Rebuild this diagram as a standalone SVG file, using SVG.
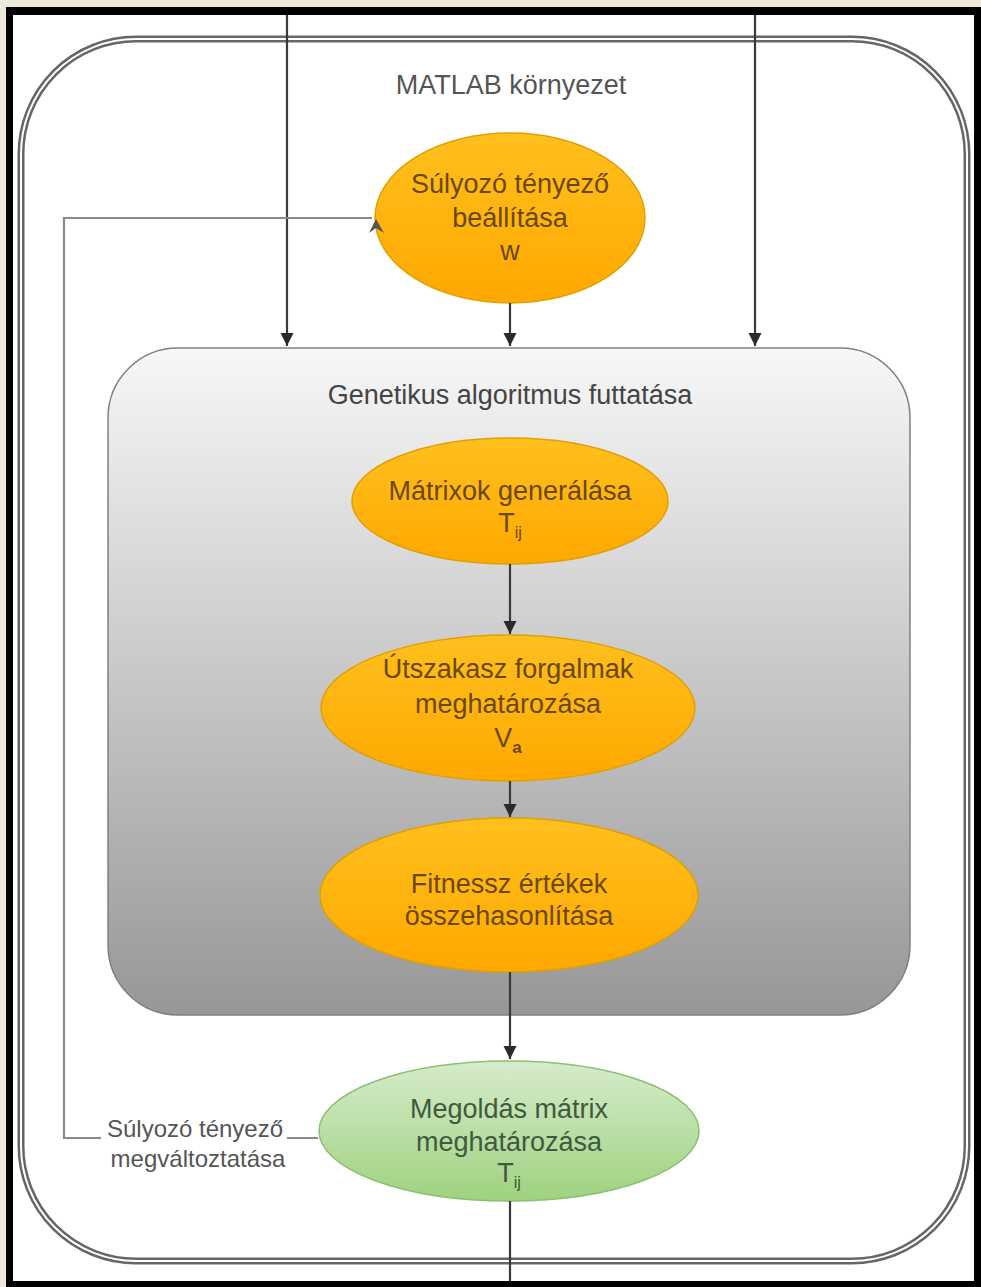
<svg xmlns="http://www.w3.org/2000/svg" width="981" height="1287" viewBox="0 0 981 1287">
<style>
.t{font-family:"Liberation Sans",Arial,sans-serif;text-anchor:middle}
.ot{font-size:27px;fill:#6b4800}
.gt{font-size:27px;fill:#3f5a3f}
.lbl{font-size:27px;fill:#555}
.conn{stroke:#3a3a3a;stroke-width:2.2;fill:none}
.fb{stroke:#8a8a8a;stroke-width:2.2;fill:none}
.orange{fill:url(#og);stroke:#e0a000;stroke-width:1.5}
</style>
<defs>
<linearGradient id="og" x1="0" y1="0" x2="0" y2="1">
<stop offset="0" stop-color="#ffc01e"/>
<stop offset="1" stop-color="#ffa800"/>
</linearGradient>
<linearGradient id="gg" x1="0" y1="0" x2="0" y2="1">
<stop offset="0" stop-color="#d6ebcc"/>
<stop offset="1" stop-color="#9fd27f"/>
</linearGradient>
<linearGradient id="bg" x1="0" y1="0" x2="0" y2="1">
<stop offset="0" stop-color="#f7f7f7"/>
<stop offset="1" stop-color="#979797"/>
</linearGradient>
<marker id="ah" viewBox="0 0 10 10" refX="10" refY="5" markerWidth="6" markerHeight="6" orient="auto" markerUnits="strokeWidth">
<path d="M0,0 L10,5 L0,10 z" fill="#2a2a2a"/>
</marker>
</defs>
<rect x="0" y="0" width="981" height="1287" fill="#eeeadb"/>
<rect x="6" y="7" width="975" height="1280" fill="#000"/>
<rect x="13" y="15" width="961" height="1266" fill="#fff"/>

<g id="matlab">
<rect x="21" y="39" width="946" height="1222" rx="115" ry="115" fill="none" stroke="#666" stroke-width="7"/>
<rect x="21" y="39" width="946" height="1222" rx="115" ry="115" fill="none" stroke="#fff" stroke-width="2"/>
<text class="t lbl" x="511" y="94">MATLAB környezet</text>
</g>

<g id="ga">
<rect x="108" y="348" width="802" height="667" rx="70" ry="70" fill="url(#bg)" stroke="#808080" stroke-width="1.5"/>
<text class="t" x="510" y="404" style="font-size:27px;fill:#444">Genetikus algoritmus futtatása</text>
</g>

<g id="n-w">
<ellipse class="orange" cx="510" cy="218" rx="135" ry="85"/>
<text class="t ot" x="510" y="193">Súlyozó tényező</text>
<text class="t ot" x="510" y="227">beállítása</text>
<text class="t ot" x="510" y="260">w</text>
</g>

<g id="n-matrix">
<ellipse class="orange" cx="510" cy="501" rx="158" ry="63"/>
<text class="t ot" x="510" y="500">Mátrixok generálása</text>
<text class="t ot" x="510" y="532">T<tspan dy="6" style="font-size:16px">ij</tspan></text>
</g>

<g id="n-flow">
<ellipse class="orange" cx="508" cy="708" rx="187" ry="73"/>
<text class="t ot" x="508" y="678">Útszakasz forgalmak</text>
<text class="t ot" x="508" y="713">meghatározása</text>
<text class="t ot" x="508" y="747">V<tspan dy="6" style="font-size:17px;font-weight:bold">a</tspan></text>
</g>

<g id="n-fitness">
<ellipse class="orange" cx="509" cy="895" rx="189" ry="77"/>
<text class="t ot" x="509" y="893">Fitnessz értékek</text>
<text class="t ot" x="509" y="925">összehasonlítása</text>
</g>

<g id="n-solution">
<ellipse cx="509" cy="1131" rx="190" ry="70" fill="url(#gg)" stroke="#8cbf70" stroke-width="1.5"/>
<text class="t gt" x="509" y="1118">Megoldás mátrix</text>
<text class="t gt" x="509" y="1151">meghatározása</text>
<text class="t gt" x="509" y="1182">T<tspan dy="6" style="font-size:16px">ij</tspan></text>
</g>

<g id="connectors">
<line class="conn" x1="287" y1="15" x2="287" y2="346" marker-end="url(#ah)"/>
<line class="conn" x1="755" y1="15" x2="755" y2="346" marker-end="url(#ah)"/>
<line class="conn" x1="510" y1="303" x2="510" y2="346" marker-end="url(#ah)"/>
<line class="conn" x1="510" y1="564" x2="510" y2="634" marker-end="url(#ah)"/>
<line class="conn" x1="510" y1="781" x2="510" y2="817" marker-end="url(#ah)"/>
<line class="conn" x1="510" y1="972" x2="510" y2="1059" marker-end="url(#ah)"/>
<line class="conn" x1="510" y1="1201" x2="510" y2="1281"/>
<path class="fb" d="M318,1138 H287 M101,1138 H64 V218 H372"/>
<polygon points="369,233 376,219 384,233 376,228" fill="#555"/>
<text class="t" x="195" y="1137" style="font-size:24px;fill:#555">Súlyozó tényező</text>
<text class="t" x="198" y="1167" style="font-size:24px;fill:#555">megváltoztatása</text>
</g>
</svg>
